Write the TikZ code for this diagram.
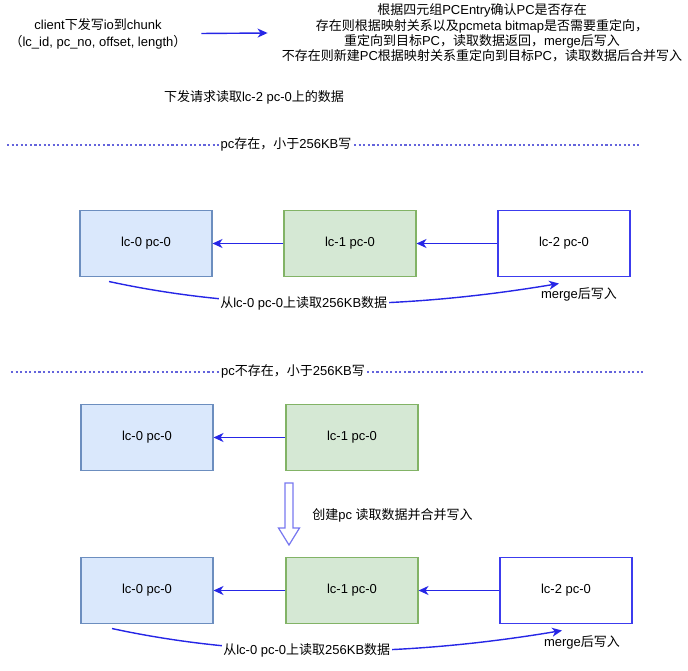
\documentclass[tikz,border=0pt]{standalone}
\usepackage{fontspec}
\setmainfont{Liberation Sans}
\newfontfamily\cjk{Noto Sans CJK SC}
\usepackage{tikz}
\usetikzlibrary{arrows.meta,calc}
\definecolor{boxblue}{HTML}{DAE8FC}
\definecolor{edgeblue}{HTML}{6C8EBF}
\definecolor{boxgreen}{HTML}{D5E8D4}
\definecolor{edgegreen}{HTML}{82B366}
\definecolor{linkblue}{HTML}{2626E6}
\definecolor{nodeblue}{HTML}{3C3CEE}
\definecolor{sepblue}{HTML}{6464DC}
\definecolor{hollowblue}{HTML}{7878F0}

\begin{document}
\begin{tikzpicture}[x=0.02cm, y=-0.02cm,
    font=\fontsize{7.4pt}{8.8pt}\selectfont,
    txt/.style={inner sep=0pt, align=center},
    pcbox/.style={draw, line width=0.6pt, minimum width=2.64cm,
                  minimum height=1.32cm, inner sep=0pt},
    lczero/.style={pcbox, fill=boxblue, draw=edgeblue},
    lcone/.style={pcbox, fill=boxgreen, draw=edgegreen},
    lctwo/.style={pcbox, fill=white, draw=nodeblue},
    flow/.style={-{Stealth[length=2mm, width=1.8mm, inset=0.6mm]},
                 line width=0.8pt, draw=linkblue},
    sepline/.style={draw=sepblue, line width=0.6pt,
                    dash pattern=on 1.2pt off 1.4pt},
    seplbl/.style={fill=white, inner sep=1pt},
  ]
    \useasboundingbox (0,0) rectangle (688,671);

    \node[txt] (cli) at (98,33.5) {client{\cjk 下发写}io{\cjk 到}chunk\\[1pt]
      {\cjk （}lc\_id, pc\_no, offset, length{\cjk ）}};
    \node[txt] (desc) at (482,33) {
      {\cjk 根据四元组}PCEntry{\cjk 确认}PC{\cjk 是否存在}\\
      {\cjk 存在则根据映射关系以及}pcmeta bitmap{\cjk 是否需要重定向，}\\
      {\cjk 重定向到目标}PC{\cjk ，读取数据返回，}merge{\cjk 后写入}\\
      {\cjk 不存在则新建}PC{\cjk 根据映射关系重定向到目标}PC{\cjk ，读取数据后合并写入}};
    \draw[flow] ([xshift=0.29cm]cli.east) -- ([xshift=-0.28cm]desc.west);
    \node[txt] (req) at (254,97) {{\cjk 下发请求读取}lc-2 pc-0{\cjk 上的数据}};

    % pc exists
    \draw[sepline] (7,145) -- (639,145);
    \node[seplbl] (sec1) at (286,144) {pc{\cjk 存在，小于}256KB{\cjk 写}};
    \node[lczero] (R1a) at (146,243.5) {lc-0 pc-0};
    \node[lcone]  (R1b) at (350,243.5) {lc-1 pc-0};
    \node[lctwo]  (R1c) at (564,243.5) {lc-2 pc-0};
    \draw[flow] (R1b) -- (R1a);
    \draw[flow] (R1c) -- (R1b);
    \draw[flow] ([xshift=-0.74cm, yshift=-0.09cm]R1a.south)
      .. controls +(134,29) and +(-167,28) .. ([xshift=-0.1cm, yshift=-0.13cm]R1c.south)
      node[pos=0.46, fill=white, inner sep=1pt] (rd1) {{\cjk 从}lc-0 pc-0{\cjk 上读取}256KB{\cjk 数据}};
    \node[txt] (mg1) at (579,294) {merge{\cjk 后写入}};

    % pc does not exist
    \draw[sepline] (11,372) -- (643,372);
    \node[seplbl] (sec2) at (293,371) {pc{\cjk 不存在，小于}256KB{\cjk 写}};
    \node[lczero] (R2a) at (147,437.5) {lc-0 pc-0};
    \node[lcone]  (R2b) at (352,437.5) {lc-1 pc-0};
    \draw[flow] (R2b) -- (R2a);

    \draw[hollowblue, line width=0.7pt, fill=white]
      (285,483) -- (293,483) -- (293,528) -- (299.5,528) -- (289,545)
      -- (278.5,528) -- (285,528) -- cycle;
    \node[txt, anchor=west] (mk) at (312,515) {{\cjk 创建}pc {\cjk 读取数据并合并写入}};

    \node[lczero] (R3a) at (147,590.5) {lc-0 pc-0};
    \node[lcone]  (R3b) at (352,590.5) {lc-1 pc-0};
    \node[lctwo]  (R3c) at (566,590.5) {lc-2 pc-0};
    \draw[flow] (R3b) -- (R3a);
    \draw[flow] (R3c) -- (R3b);
    \draw[flow] ([xshift=-0.7cm, yshift=-0.09cm]R3a.south)
      .. controls +(134,29) and +(-167,28) .. ([xshift=-0.08cm, yshift=-0.13cm]R3c.south)
      node[pos=0.46, fill=white, inner sep=1pt] (rd3) {{\cjk 从}lc-0 pc-0{\cjk 上读取}256KB{\cjk 数据}};
    \node[txt] (mg3) at (582,642) {merge{\cjk 后写入}};
  \end{tikzpicture}
\end{document}
